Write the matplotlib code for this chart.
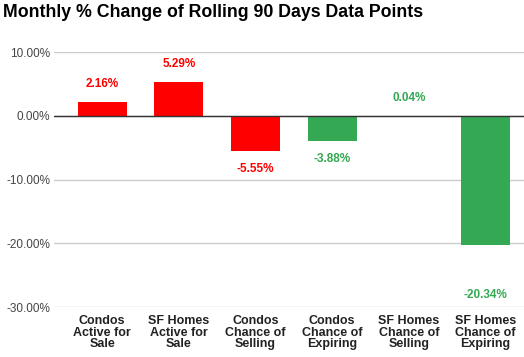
import matplotlib
matplotlib.use("Agg")
import matplotlib.pyplot as plt
from matplotlib.ticker import FuncFormatter

# data
categories = ["Condos\nActive for\nSale", "SF Homes\nActive for\nSale",
              "Condos\nChance of\nSelling", "Condos\nChance of\nExpiring",
              "SF Homes\nChance of\nSelling", "SF Homes\nChance of\nExpiring"]
values = [2.16, 5.29, -5.55, -3.88, 0.04, -20.34]
colors = ["#ff0000", "#ff0000", "#ff0000", "#34a853", "#34a853", "#34a853"]
yticks = [-30, -20, -10, 0, 10]

# label offsets in points (last one pushed lower, as in the original)
label_offsets = [13, 13, -13, -13, 13, -36]

plt.rcParams["font.family"] = ["Liberation Sans", "DejaVu Sans"]

fig = plt.figure(figsize=(5.24, 3.57), dpi=100)
ax = fig.add_axes([0.104, 0.140, 0.896, 0.714])

x = range(len(categories))
ax.bar(x, values, width=0.64, color=colors, zorder=3)

for xi, v, c, off in zip(x, values, colors, label_offsets):
    ax.annotate(f"{v:.2f}%", (xi, max(v, 0) if off > 0 else v),
                xytext=(0, off), textcoords="offset points",
                ha="center", va="center", fontsize=8.5, fontweight="bold", color=c)

ax.set_ylim(-30, 10)
ax.set_xlim(-0.62, 5.5)
ax.set_yticks(yticks)
ax.yaxis.set_major_formatter(FuncFormatter(lambda v, p: f"{v:.2f}%"))
ax.grid(axis="y", color="#cccccc", linewidth=1, zorder=0)
ax.axhline(0, color="#333333", linewidth=1, zorder=4)
for s in ax.spines.values():
    s.set_visible(False)
ax.tick_params(axis="y", length=0, labelsize=8.5, colors="#444444", pad=3)
ax.tick_params(axis="x", length=0, pad=6)
ax.set_xticks(list(x))
ax.set_xticklabels(categories, fontsize=9, fontweight="bold", color="#222222",
                   linespacing=0.95)

fig.text(0.006, 0.965, "Monthly % Change of Rolling 90 Days Data Points",
         fontsize=12.8, fontweight="bold", color="#000000", va="center", ha="left")

fig.savefig("out.png", dpi=100)
